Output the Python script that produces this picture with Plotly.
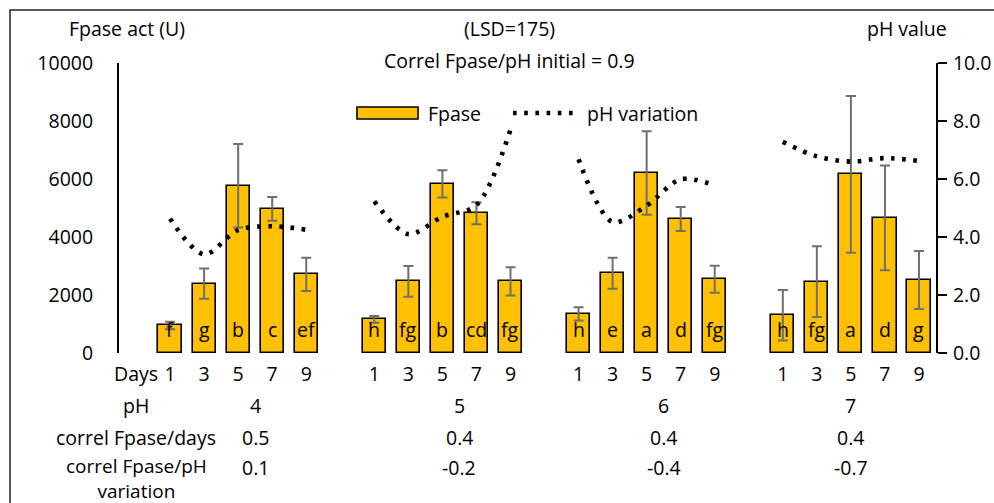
import plotly.graph_objects as go

# ---------------- data ----------------
days = [1, 3, 5, 7, 9]
ph_initial = [4, 5, 6, 7]

fpase_ph4 = [950, 2390, 5770, 4970, 2710]
fpase_ph5 = [1160, 2470, 5830, 4820, 2470]
fpase_ph6 = [1350, 2750, 6210, 4620, 2540]
fpase_ph7 = [1300, 2460, 6160, 4660, 2520]

err_ph4 = [130, 520, 1440, 410, 575]
err_ph5 = [120, 530, 470, 380, 490]
err_ph6 = [230, 535, 1440, 415, 465]
err_ph7 = [870, 1220, 2700, 1805, 1000]

phvar_ph4 = [4.63, 3.40, 4.24, 4.37, 4.25]
phvar_ph5 = [5.23, 4.10, 4.70, 5.10, 7.70]
phvar_ph6 = [6.68, 4.52, 5.08, 5.99, 5.78]
phvar_ph7 = [7.28, 6.78, 6.60, 6.72, 6.62]

letters_ph4 = ["f", "g", "b", "c", "ef"]
letters_ph5 = ["h", "fg", "b", "cd", "fg"]
letters_ph6 = ["h", "e", "a", "d", "fg"]
letters_ph7 = ["h", "fg", "a", "d", "g"]

correl_days = ["0.5", "0.4", "0.4", "0.4"]
correl_phvar = ["0.1", "-0.2", "-0.4", "-0.7"]

left_ticks = [0, 2000, 4000, 6000, 8000, 10000]
right_ticks = [0, 2, 4, 6, 8, 10]

fpase = [fpase_ph4, fpase_ph5, fpase_ph6, fpase_ph7]
errs = [err_ph4, err_ph5, err_ph6, err_ph7]
phvar = [phvar_ph4, phvar_ph5, phvar_ph6, phvar_ph7]
letters = [letters_ph4, letters_ph5, letters_ph6, letters_ph7]

# ---------------- styling ----------------
FONT = "Open Sans"
FS = 19.5
BAR_COLOR = "#FFC000"
DOT_W = 4.6
DOT_DASH = "3.6px,7.6px"

# plot area in pixels
W, H = 994, 503
L, R, T, B = 119, 58, 63, 150
PW = W - L - R
PH = H - T - B


def px_x(px):
    return (px - L) / PW


def px_y(py):
    return (H - B - py) / PH


fig = go.Figure()

# category positions: slot 0 = "Days", then 5 days per group, one blank slot between groups
positions = []
for g in range(len(ph_initial)):
    positions.append([1 + g * 6 + i for i in range(len(days))])

for g in range(len(ph_initial)):
    fig.add_trace(go.Bar(
        x=positions[g], y=fpase[g],
        width=0.68,
        marker=dict(color=BAR_COLOR, line=dict(color="black", width=1.6)),
        error_y=dict(type="data", array=errs[g], visible=True,
                     color="#6f6f6f", thickness=2, width=5),
        showlegend=False, yaxis="y", hoverinfo="skip",
    ))

for g in range(len(ph_initial)):
    fig.add_trace(go.Scatter(
        x=positions[g], y=phvar[g], mode="lines",
        line=dict(color="black", width=DOT_W, dash=DOT_DASH,
                  shape="spline", smoothing=0.9),
        showlegend=False, yaxis="y2", hoverinfo="skip",
    ))

annotations = []
# letters inside bars
for g in range(len(ph_initial)):
    for i, lt in enumerate(letters[g]):
        annotations.append(dict(
            x=positions[g][i], y=0, xref="x", yref="y", yshift=24,
            text=lt, showarrow=False,
            font=dict(family=FONT, size=FS, color="black"),
            xanchor="center", yanchor="middle",
        ))

# table rows below the axis
row_label_y = [405, 437, 467]
row_labels = ["pH", "correl Fpase/days", "correl Fpase/pH"]
for lbl, py in zip(row_labels[:2], row_label_y[:2]):
    annotations.append(dict(
        x=0, y=px_y(py), xref="x", yref="paper", text=lbl, showarrow=False,
        font=dict(family=FONT, size=FS, color="black"),
        xanchor="center", yanchor="middle",
    ))
annotations.append(dict(
    x=0, y=px_y(452), xref="x", yref="paper",
    text=row_labels[2] + "<br>variation", showarrow=False,
    font=dict(family=FONT, size=19, color="black"),
    xanchor="center", yanchor="top", align="center", borderpad=0,
))

value_x = [3.5, 9.5, 15.5, 21.0]
rows_vals = [[str(p) for p in ph_initial], correl_days, correl_phvar]
for vals, py in zip(rows_vals, row_label_y):
    for vx, v in zip(value_x, vals):
        annotations.append(dict(
            x=vx, y=px_y(py), xref="x", yref="paper", text=v, showarrow=False,
            font=dict(family=FONT, size=FS, color="black"),
            xanchor="center", yanchor="middle",
        ))

# titles
top_texts = [
    ("Fpase act (U)", 127, 28),
    ("(LSD=175)", 509, 28),
    ("Correl Fpase/pH initial = 0.9", 509, 60),
    ("pH value", 907, 28),
]
for txt, px, py in top_texts:
    annotations.append(dict(
        x=px_x(px), y=px_y(py), xref="paper", yref="paper", text=txt,
        showarrow=False, font=dict(family=FONT, size=FS, color="black"),
        xanchor="center", yanchor="middle",
    ))

# custom legend
annotations.append(dict(
    x=px_x(426), y=px_y(113), xref="paper", yref="paper", text="Fpase",
    showarrow=False, font=dict(family=FONT, size=FS, color="black"),
    xanchor="left", yanchor="middle",
))
annotations.append(dict(
    x=px_x(585), y=px_y(113), xref="paper", yref="paper", text="pH variation",
    showarrow=False, font=dict(family=FONT, size=FS, color="black"),
    xanchor="left", yanchor="middle",
))

shapes = [
    # outer frame
    dict(type="rect", xref="paper", yref="paper",
         x0=px_x(10), x1=px_x(1010), y0=px_y(520), y1=px_y(10),
         line=dict(color="#222222", width=1.5), fillcolor="rgba(0,0,0,0)",
         layer="below"),
    # legend bar symbol
    dict(type="rect", xref="paper", yref="paper",
         x0=px_x(357), x1=px_x(418), y0=px_y(119), y1=px_y(107),
         line=dict(color="black", width=1.6), fillcolor=BAR_COLOR),
    # legend dotted line symbol
    dict(type="line", xref="paper", yref="paper",
         x0=px_x(513), x1=px_x(578), y0=px_y(113), y1=px_y(113),
         line=dict(color="black", width=DOT_W, dash=DOT_DASH)),
]

fig.update_layout(
    width=W, height=H,
    margin=dict(l=L, r=R, t=T, b=B, autoexpand=False),
    paper_bgcolor="white", plot_bgcolor="white",
    barmode="overlay",
    font=dict(family=FONT, size=FS, color="black"),
    xaxis=dict(
        range=[-0.5, 23.5],
        tickmode="array",
        tickvals=[0] + [p for grp in positions for p in grp],
        ticktext=["Days"] + [str(d) for _ in ph_initial for d in days],
        showgrid=False, zeroline=False, showline=False, ticks="",
        ticklabelstandoff=7,
        tickfont=dict(family=FONT, size=FS, color="black"),
    ),
    yaxis=dict(
        range=[0, 10000], tickmode="array", tickvals=left_ticks,
        ticktext=[str(v) for v in left_ticks],
        showgrid=False, zeroline=False, showline=True, linecolor="black",
        linewidth=2, ticks="", ticklabelstandoff=20,
        tickfont=dict(family=FONT, size=FS, color="black"),
    ),
    yaxis2=dict(
        range=[0, 10], overlaying="y", side="right",
        tickmode="array", tickvals=right_ticks,
        ticktext=["%.1f" % v for v in right_ticks],
        showgrid=False, zeroline=False, showline=True, linecolor="black",
        linewidth=2, ticks="outside", ticklen=9, tickwidth=2, tickcolor="black",
        ticklabelstandoff=2,
        tickfont=dict(family=FONT, size=FS, color="black"),
    ),
    annotations=annotations,
    shapes=shapes,
    bargap=0,
)

fig.write_html("out.html", config={"displayModeBar": False})

# remove the browser's default page margin so the figure sits at (0, 0)
with open("out.html", "r", encoding="utf-8") as f:
    html = f.read()
html = html.replace("<head>", "<head><style>html,body{margin:0;padding:0;overflow:hidden;}</style>", 1)
with open("out.html", "w", encoding="utf-8") as f:
    f.write(html)
